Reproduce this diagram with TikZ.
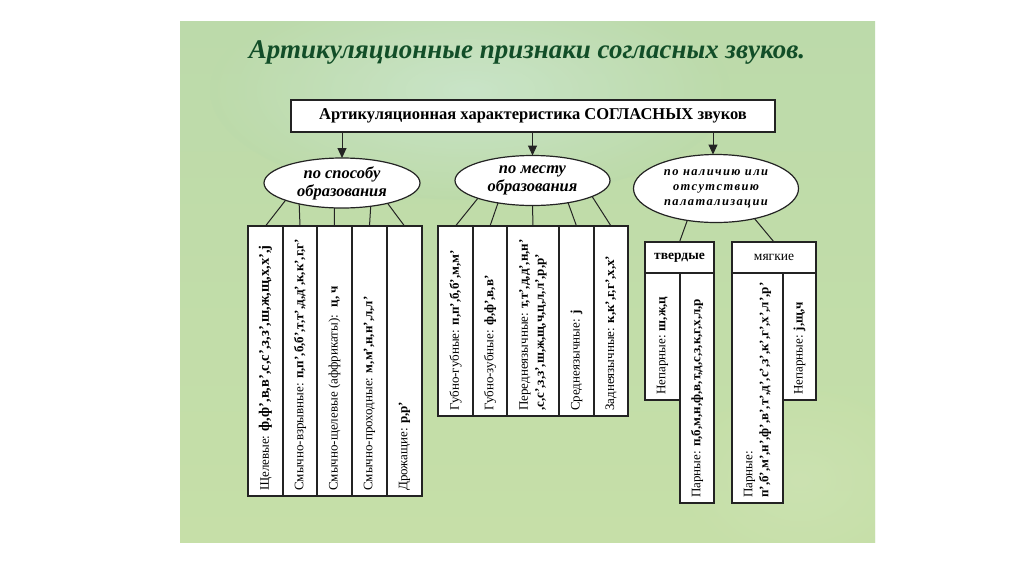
\documentclass[tikz,border=0pt]{standalone}
\usepackage{fontspec}
\setmainfont{Liberation Serif}
\usetikzlibrary{shapes.geometric,arrows.meta}
\definecolor{bgA}{RGB}{192,221,170}
\definecolor{bgB}{RGB}{188,218,170}
\definecolor{bgSpot}{RGB}{206,232,212}
\definecolor{bgLow}{RGB}{198,223,168}
\definecolor{titlegreen}{RGB}{18,78,40}
\definecolor{ink}{RGB}{35,35,35}
\tikzset{
  frame/.style={draw=ink, line width=1.2pt, fill=white, outer sep=0pt, inner sep=0pt},
  colbox/.style={frame, rectangle},
  oval/.style={frame, ellipse, align=center, font=\bfseries\itshape\fontsize{16.5}{18}\selectfont},
  coltext/.style={rotate=90, anchor=west, inner sep=0pt, font=\fontsize{13}{16}\selectfont, align=left},
  conn/.style={draw=ink, line width=1pt},
  arr/.style={draw=ink, line width=1pt, -{Triangle[length=10pt,width=9pt]}}
}
\begin{document}
\begin{tikzpicture}[x=1pt,y=-1pt]
\useasboundingbox (0,0) rectangle (1024,574);
\fill[white] (0,0) rectangle (1024,574);
% background slide
\begin{scope}
\clip (180,21) rectangle (875,542);
\shade[top color=bgB, bottom color=bgLow] (180,21) rectangle (875,542);
\shade[inner color=bgSpot, outer color=bgB, opacity=0.7] (470,90) ellipse (260pt and 110pt);
\shade[inner color=bgLow!80!white, outer color=bgLow, opacity=0.5] (800,480) ellipse (120pt and 90pt);
\end{scope}

% title
\node[font=\bfseries\itshape\fontsize{27}{30}\selectfont, text=titlegreen] (title) at (527,52) {Артикуляционные признаки согласных звуков.};

% top box
\node[colbox, minimum width=484pt, minimum height=32pt, font=\bfseries\fontsize{16.5}{18}\selectfont] (top) at (533,116) {Артикуляционная характеристика СОГЛАСНЫХ звуков};

% ellipses
\node[oval, minimum width=156pt, minimum height=50pt] (e1) at (342,183) {по способу\\образования};
\node[oval, minimum width=155pt, minimum height=50pt] (e2) at (532.5,180.5) {по месту\\образования};
\node[oval, minimum width=165pt, minimum height=68pt, font=\bfseries\itshape\fontsize{12.5}{15}\selectfont\addfontfeatures{LetterSpace=11}] (e3) at (716,188.5) {по наличию или\\отсутствию\\палатализации};

\draw[arr] (top.south -| e1.north) -- (e1.north);
\draw[arr] (top.south -| e2.north) -- (e2.north);
\draw[arr] ([xshift=-3pt]top.south -| e3.north) -- ([xshift=-3pt]e3.north);

% group 1 columns
\node[colbox, minimum width=35pt, minimum height=270pt] (c11) at (265.5,361) {};
\node[colbox, minimum width=34pt, minimum height=270pt] (c12) at (300,361) {};
\node[colbox, minimum width=35pt, minimum height=270pt] (c13) at (334.5,361) {};
\node[colbox, minimum width=35pt, minimum height=270pt] (c14) at (369.5,361) {};
\node[colbox, minimum width=35pt, minimum height=270pt] (c15) at (404.5,361) {};

% group 2 columns
\node[colbox, minimum width=35pt, minimum height=190pt] (c21) at (455.5,321) {};
\node[colbox, minimum width=34pt, minimum height=190pt] (c22) at (490,321) {};
\node[colbox, minimum width=52pt, minimum height=190pt] (c23) at (533,321) {};
\node[colbox, minimum width=35pt, minimum height=190pt] (c24) at (576.5,321) {};
\node[colbox, minimum width=34pt, minimum height=190pt] (c25) at (611,321) {};

% group 3
\node[colbox, minimum width=69pt, minimum height=31pt, font=\bfseries\fontsize{13.5}{15}\selectfont] (tv) at (679.5,257.5) {твердые};
\node[colbox, minimum width=84pt, minimum height=31pt, font=\fontsize{13.5}{15}\selectfont] (mg) at (774,257.5) {мягкие};
\node[colbox, minimum width=35pt, minimum height=127pt] (c31) at (662.5,336.5) {};
\node[colbox, minimum width=34pt, minimum height=230pt] (c32) at (697,388) {};
\node[colbox, minimum width=51pt, minimum height=230pt] (c33) at (757.5,388) {};
\node[colbox, minimum width=33pt, minimum height=127pt] (c34) at (799.5,336.5) {};

% connectors from ellipses
\draw[conn] (e1.197) -- (c11.north);
\draw[conn] (e1.206) -- (c12.north);
\draw[conn] (e1.253) -- (c13.north);
\draw[conn] (e1.321) -- (c14.north);
\draw[conn] (e1.336) -- (c15.north);

\draw[conn] (e2.198) -- (c21.north);
\draw[conn] (e2.213) -- (c22.north);
\draw[conn] (e2.270) -- (c23.north);
\draw[conn] (e2.328) -- (c24.north);
\draw[conn] (e2.345) -- (c25.north);

\draw[conn] (e3.228) -- (tv.north);
\draw[conn] (e3.322) -- (mg.north);

% texts group 1
\node[coltext] (t11) at ([yshift=5pt]c11.south) {Щелевые: \textbf{\fontsize{14.5}{16}\selectfont ф,ф’,в,в’,с,с’,з,з’,ш,ж,щ,х,х’,j}};
\node[coltext] (t12) at ([yshift=5pt]c12.south) {Смычно-взрывные: \textbf{п,п’,б,б’,т,т’,д,д’,к,к’,г,г’}};
\node[coltext] (t13) at ([yshift=5pt]c13.south) {Смычно-щелевые (аффрикаты): \ \textbf{ц, ч}};
\node[coltext] (t14) at ([yshift=5pt]c14.south) {Смычно-проходные: \textbf{м,м’,н,н’,л,л’}};
\node[coltext] (t15) at ([yshift=5pt]c15.south) {Дрожащие: \textbf{р,р’}};

% texts group 2
\node[coltext] (t21) at ([yshift=5pt]c21.south) {Губно-губные: \textbf{п,п’,б,б’,м,м’}};
\node[coltext] (t22) at ([yshift=5pt]c22.south) {Губно-зубные: \textbf{ф,ф’,в,в’}};
\node[coltext] (t23) at ([yshift=5pt]c23.south) {Переднеязычные: \textbf{т,т’,д,д’,н,н’}\\\textbf{,с,с’,з,з’,ш,ж,щ,ч,ц,л,л’,р,р’}};
\node[coltext] (t24) at ([yshift=5pt]c24.south) {Среднеязычные: \textbf{j}};
\node[coltext] (t25) at ([yshift=5pt]c25.south) {Заднеязычные: \textbf{к,к’,г,г’,х,х’}};

% texts group 3
\node[coltext] (t31) at ([yshift=5pt]c31.south) {Непарные: \textbf{ш,ж,ц}};
\node[coltext] (t32) at ([yshift=5pt]c32.south) {Парные: \textbf{п,б,м,н,ф,в,т,д,с,з,к,г,х,л,р}};
\node[coltext] (t33) at ([yshift=5pt]c33.south) {Парные:\\\textbf{п’,б’,м’,н’,ф’,в’,т’,д’,с’,з’,к’,г’,х’,л’,р’}};
\node[coltext] (t34) at ([yshift=5pt]c34.south) {Непарные: \textbf{j,щ,ч}};
\end{tikzpicture}
\end{document}
